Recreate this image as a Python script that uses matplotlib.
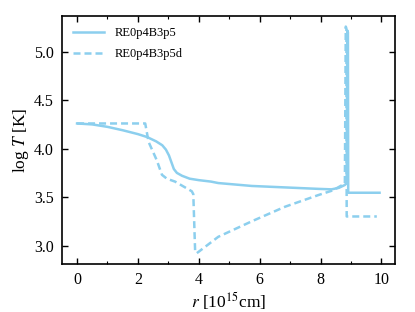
import matplotlib
matplotlib.use("Agg")
from matplotlib import pyplot as plt
from matplotlib.ticker import MultipleLocator

plt.rcParams['font.family'] = ['Liberation Serif', 'DejaVu Serif']
plt.rcParams['mathtext.fontset'] = 'stix'

# RE0p4B3p5 (solid)
r_solid = [0.0, 0.5, 1.0, 1.5, 2.0, 2.3, 2.6, 2.8, 2.92, 3.02, 3.1, 3.18, 3.28, 3.45,
           3.7, 4.0, 4.4, 4.64, 5.74, 6.83, 7.92, 8.36, 8.6, 8.8, 8.86, 8.88, 8.9,
           8.91, 9.94]
t_solid = [4.26, 4.25, 4.225, 4.19, 4.15, 4.12, 4.075, 4.035, 3.99, 3.93, 3.86, 3.79,
           3.75, 3.72, 3.69, 3.675, 3.66, 3.645, 3.615, 3.60, 3.585, 3.58, 3.595,
           3.625, 3.65, 5.22, 5.20, 3.545, 3.545]

# RE0p4B3p5d (dashed)
r_dash = [0.0, 2.24, 2.35, 2.62, 2.79, 2.95, 3.22, 3.55, 3.77, 3.82, 3.88, 3.93,
          4.64, 5.74, 6.83, 7.92, 8.41, 8.8, 8.83, 8.85, 8.86, 9.85]
t_dash = [4.26, 4.26, 4.07, 3.88, 3.73, 3.69, 3.66, 3.60, 3.56, 3.53, 2.94, 2.92,
          3.09, 3.25, 3.40, 3.52, 3.57, 3.64, 5.26, 5.24, 3.30, 3.30]

col = '#8ccfee'

fig = plt.figure(figsize=(4.15, 3.12), dpi=100)
ax = fig.add_axes([0.149, 0.154, 0.803, 0.795])

ax.plot(r_solid, t_solid, '-', color=col, lw=1.8, label='RE0p4B3p5')
ax.plot(r_dash, t_dash, '--', color=col, lw=1.8, dashes=(2.8, 1.6), label='RE0p4B3p5d')

ax.set_xlim(-0.5, 10.45)
ax.set_ylim(2.81, 5.37)
ax.xaxis.set_major_locator(MultipleLocator(2))
ax.xaxis.set_minor_locator(MultipleLocator(1))
ax.set_yticks([3.0, 3.5, 4.0, 4.5, 5.0])
ax.set_yticklabels(['3.0', '3.5', '4.0', '4.5', '5.0'])

ax.tick_params(which='both', direction='in', top=True, right=True, labelsize=11.5)
ax.tick_params(which='major', length=4, width=1, pad=6)
ax.tick_params(which='minor', length=2, width=0.8)
for s in ax.spines.values():
    s.set_linewidth(1.2)

ax.set_xlabel(r'$r$ [10$^{15}$cm]', fontsize=12.5, labelpad=1)
ax.set_ylabel(r'log $T$ [K]', fontsize=12.5, labelpad=2)

ax.legend(loc='upper left', frameon=False, fontsize=9, handlelength=2.5,
          handletextpad=0.8, borderaxespad=0.5, labelspacing=0.7)

fig.savefig('out.png', dpi=100)
